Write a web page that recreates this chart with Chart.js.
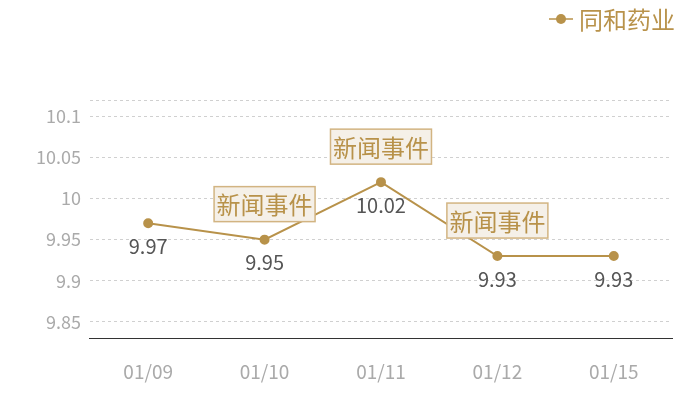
<!DOCTYPE html>
<html><head><meta charset="utf-8">
<script src="https://cdn.jsdelivr.net/npm/chart.js@4/dist/chart.umd.min.js"></script>
<style>html,body{margin:0;padding:0;background:#fff}#wrap{width:700px;height:400px}</style>
</head><body><div id="wrap"><canvas id="c" width="700" height="400"></canvas></div>
<script>
const categories = ['01/09','01/10','01/11','01/12','01/15'];
const seriesName = '同和药业';
const values = [9.97, 9.95, 10.02, 9.93, 9.93];
const eventLabels = [null, '新闻事件', '新闻事件', '新闻事件', null];
const yTicks = [9.85, 9.9, 9.95, 10, 10.05, 10.1, 10.12];
const yLabeled = [9.85, 9.9, 9.95, 10, 10.05, 10.1];

const GOLD = '#b8924a';
const FONT = '"Noto Sans CJK SC", "Noto Sans", sans-serif';

const overlay = {
  id: 'overlay',
  afterDatasetsDraw(chart) {
    const ctx = chart.ctx;
    const meta = chart.getDatasetMeta(0);
    ctx.save();
    // value labels
    ctx.font = '20px ' + FONT;
    ctx.fillStyle = '#555';
    ctx.textAlign = 'center';
    ctx.textBaseline = 'middle';
    meta.data.forEach((p, i) => {
      ctx.fillText(String(values[i]), p.x, p.y + 23);
    });
    // event boxes
    ctx.font = '24px ' + FONT;
    meta.data.forEach((p, i) => {
      const t = eventLabels[i];
      if (!t) return;
      const w = 101, h = 35;
      const cx = p.x, cy = p.y - 35.5;
      ctx.fillStyle = '#f5f0e8';
      ctx.fillRect(cx - w/2, cy - h/2, w, h);
      ctx.strokeStyle = '#d2b482';
      ctx.lineWidth = 1.5;
      ctx.strokeRect(cx - w/2, cy - h/2, w, h);
      ctx.fillStyle = GOLD;
      ctx.fillText(t, cx, cy + 1);
    });
    // legend
    const ly = 19;
    ctx.strokeStyle = GOLD;
    ctx.lineWidth = 1.5;
    ctx.beginPath(); ctx.moveTo(549, ly); ctx.lineTo(573, ly); ctx.stroke();
    ctx.fillStyle = GOLD;
    ctx.beginPath(); ctx.arc(561, ly, 5, 0, Math.PI*2); ctx.fill();
    ctx.font = '24px ' + FONT;
    ctx.textAlign = 'left';
    ctx.fillText(seriesName, 579, ly + 1);
    ctx.restore();
  }
};

new Chart(document.getElementById('c'), {
  type: 'line',
  data: {
    labels: categories,
    datasets: [{
      label: seriesName,
      data: values,
      borderColor: GOLD,
      backgroundColor: GOLD,
      borderWidth: 2,
      pointRadius: 4,
      pointHoverRadius: 4,
      tension: 0,
      clip: false
    }]
  },
  options: {
    responsive: false,
    animation: false,
    devicePixelRatio: 1,
    layout: { padding: { top: 100, right: 28, left: 27, bottom: -5 } },
    plugins: { legend: { display: false }, tooltip: { enabled: false } },
    scales: {
      x: {
        offset: true,
        grid: { display: false, drawTicks: false },
        border: { display: true, color: '#333', width: 1 },
        ticks: { color: '#aaa', font: { size: 19, family: FONT }, padding: 22 }
      },
      y: {
        min: 9.83, max: 10.12,
        afterBuildTicks(scale) { scale.ticks = yTicks.map(v => ({ value: v })); },
        grid: { color: '#d0d0d0', drawTicks: false, lineWidth: 1 },
        border: { display: false, dash: [3, 3] },
        ticks: {
          color: '#aaa', font: { size: 18, family: FONT }, padding: 9,
          callback: (v) => yLabeled.includes(v) ? String(v) : ''
        }
      }
    }
  },
  plugins: [overlay]
});
</script>
</body></html>
